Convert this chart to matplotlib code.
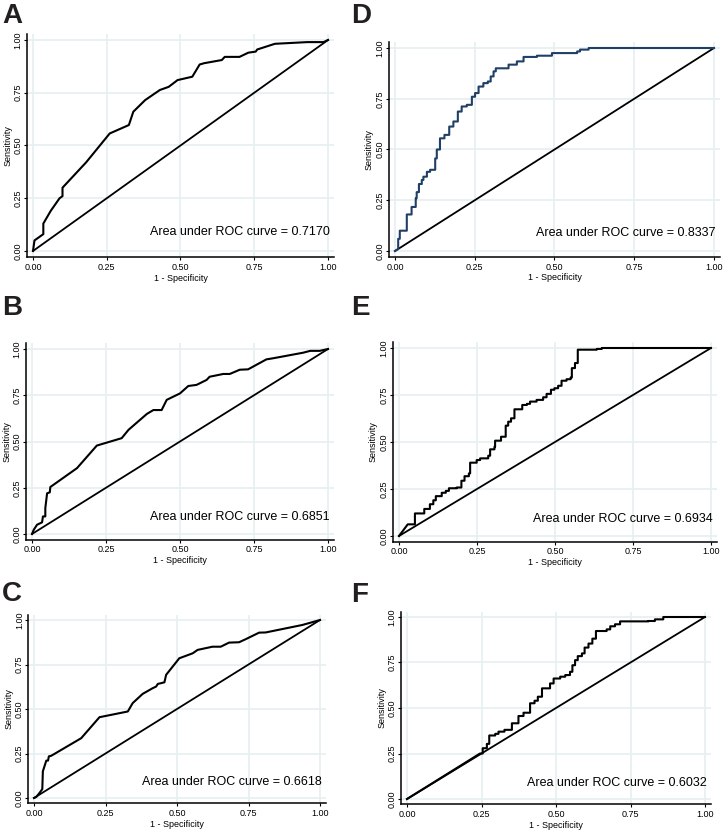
import numpy as np
import matplotlib.pyplot as plt

plt.rcParams['font.family'] = ['Liberation Sans', 'DejaVu Sans']

# ROC curve points (1 - specificity, sensitivity)
a_fpr = [0, 0.005, 0.03, 0.035, 0.035, 0.06, 0.09, 0.10, 0.10, 0.18, 0.26, 0.325, 0.34,
         0.38, 0.43, 0.46, 0.49, 0.54, 0.565, 0.58, 0.64, 0.65, 0.70, 0.73, 0.755,
         0.76, 0.82, 0.93, 0.985, 1]
a_tpr = [0, 0.05, 0.075, 0.08, 0.13, 0.19, 0.25, 0.26, 0.30, 0.42, 0.557, 0.597, 0.66,
         0.715, 0.763, 0.778, 0.81, 0.826, 0.884, 0.89, 0.905, 0.92, 0.92, 0.94, 0.945,
         0.955, 0.982, 0.99, 0.99, 1]

b_fpr = [0, 0.006, 0.017, 0.034, 0.037, 0.045, 0.045, 0.051, 0.06, 0.062, 0.152, 0.219,
         0.303, 0.326, 0.388, 0.41, 0.438, 0.455, 0.5, 0.528, 0.556, 0.59, 0.60, 0.646,
         0.668, 0.702, 0.73, 0.792, 0.815, 0.916, 0.94, 0.972, 1]
b_tpr = [0, 0.023, 0.05, 0.063, 0.095, 0.095, 0.14, 0.22, 0.225, 0.254, 0.356, 0.478,
         0.518, 0.563, 0.649, 0.67, 0.67, 0.725, 0.76, 0.80, 0.806, 0.833, 0.85, 0.865,
         0.865, 0.888, 0.89, 0.944, 0.95, 0.98, 0.99, 0.99, 1]

c_fpr = [0, 0.008, 0.02, 0.029, 0.031, 0.043, 0.049, 0.052, 0.06, 0.165, 0.229, 0.328,
         0.345, 0.38, 0.415, 0.427, 0.433, 0.444, 0.456, 0.462, 0.508, 0.555, 0.572,
         0.624, 0.653, 0.682, 0.717, 0.74, 0.787, 0.81, 0.938, 0.967, 1]
c_tpr = [0, 0.006, 0.03, 0.05, 0.15, 0.21, 0.21, 0.234, 0.237, 0.336, 0.454, 0.486,
         0.533, 0.585, 0.617, 0.626, 0.641, 0.645, 0.65, 0.692, 0.785, 0.813, 0.832,
         0.85, 0.85, 0.873, 0.875, 0.892, 0.929, 0.93, 0.972, 0.985, 1]

# step curves: x where the curve rises, height after the rise
d_fpr = [0, 0.01, 0.01, 0.015, 0.037, 0.052, 0.065, 0.068, 0.075, 0.084, 0.089, 0.10,
         0.11, 0.126, 0.131, 0.141, 0.155, 0.17, 0.183, 0.197, 0.209, 0.225, 0.241,
         0.251, 0.262, 0.277, 0.291, 0.30, 0.309, 0.316, 0.356, 0.382, 0.403, 0.445,
         0.492, 0.571, 0.58, 0.607, 1]
d_tpr = [0, 0.01, 0.06, 0.10, 0.18, 0.217, 0.26, 0.29, 0.33, 0.35, 0.366, 0.39,
         0.40, 0.456, 0.50, 0.555, 0.572, 0.613, 0.638, 0.687, 0.712, 0.72, 0.76,
         0.778, 0.81, 0.827, 0.835, 0.86, 0.885, 0.90, 0.918, 0.934, 0.956, 0.962,
         0.975, 0.983, 0.992, 1.0, 1]

e_fpr = [0, 0.028, 0.051, 0.081, 0.099, 0.11, 0.118, 0.137, 0.15, 0.16, 0.185, 0.20,
         0.21, 0.224, 0.228, 0.249, 0.26, 0.286, 0.292, 0.306, 0.308, 0.327, 0.342,
         0.35, 0.359, 0.37, 0.395, 0.41, 0.42, 0.441, 0.462, 0.473, 0.487, 0.498,
         0.51, 0.521, 0.537, 0.55, 0.554, 0.564, 0.573, 0.634, 0.65, 1]
e_tpr = [0, 0.062, 0.12, 0.144, 0.169, 0.19, 0.212, 0.23, 0.24, 0.254, 0.258, 0.294,
         0.318, 0.333, 0.39, 0.404, 0.413, 0.427, 0.461, 0.475, 0.507, 0.528, 0.587,
         0.608, 0.626, 0.674, 0.697, 0.703, 0.715, 0.724, 0.738, 0.756, 0.778, 0.786,
         0.799, 0.826, 0.834, 0.843, 0.893, 0.92, 0.991, 0.995, 1.0, 1]

f_fpr = [0, 0.245, 0.254, 0.268, 0.276, 0.296, 0.307, 0.327, 0.352, 0.374, 0.391,
         0.413, 0.428, 0.439, 0.453, 0.48, 0.492, 0.514, 0.531, 0.547, 0.555, 0.564,
         0.573, 0.587, 0.596, 0.609, 0.622, 0.634, 0.67, 0.682, 0.698, 0.715, 0.81,
         0.832, 0.86, 1]
f_tpr = [0, 0.25, 0.279, 0.303, 0.349, 0.358, 0.37, 0.38, 0.416, 0.456, 0.474,
         0.526, 0.54, 0.562, 0.608, 0.635, 0.662, 0.672, 0.681, 0.699, 0.735, 0.763,
         0.785, 0.80, 0.832, 0.854, 0.881, 0.923, 0.932, 0.949, 0.96, 0.976, 0.978,
         0.987, 1.0, 1]

auc_labels = ['0.7170', '0.6851', '0.6618', '0.8337', '0.6934', '0.6032']
panel_names = ['A', 'B', 'C', 'D', 'E', 'F']
ticks = [0, 0.25, 0.5, 0.75, 1]
tick_labels = ['0.00', '0.25', '0.50', '0.75', '1.00']


def steps(xs, ys):
    # first segment is a straight line, then right-then-up steps
    px, py = [xs[0], xs[1]], [ys[0], ys[1]]
    for i in range(2, len(xs)):
        px += [xs[i], xs[i]]
        py += [ys[i - 1], ys[i]]
    return px, py


W, H = 724, 830
# pixel positions of data 0 and 1 on each axis: x0, x1, y_top(=1), y_bottom(=0)
boxes = {
    'A': (33, 328, 40, 251),
    'B': (32, 328, 349, 534),
    'C': (34, 320, 620, 798),
    'D': (395, 714, 48, 251),
    'E': (399, 711, 348, 536),
    'F': (407, 705, 617, 799),
}
label_pos = {'A': (2, 3), 'B': (2, 295), 'C': (2, 581),
             'D': (351, 3), 'E': (351, 295), 'F': (351, 582)}
curves = {
    'A': (a_fpr, a_tpr, False), 'B': (b_fpr, b_tpr, False),
    'C': (c_fpr, c_tpr, False), 'D': (d_fpr, d_tpr, True),
    'E': (e_fpr, e_tpr, True), 'F': (f_fpr, f_tpr, True),
}
colors = {'A': 'black', 'B': 'black', 'C': 'black', 'D': '#1f3f66',
          'E': 'black', 'F': 'black'}

xpad, ypad = 0.02, 0.03
fig = plt.figure(figsize=(W / 100, H / 100), dpi=100)

for name, auc in zip(panel_names, auc_labels):
    x0, x1, yt, yb = boxes[name]
    ux = x1 - x0
    uy = yb - yt
    left = x0 - xpad * ux
    right = x1 + xpad * ux
    top = yt - ypad * uy
    bottom = yb + ypad * uy
    ax = fig.add_axes([left / W, 1 - bottom / H, (right - left) / W, (bottom - top) / H])
    ax.set_xlim(-xpad, 1 + xpad)
    ax.set_ylim(-ypad, 1 + ypad)
    for s in ['top', 'right']:
        ax.spines[s].set_visible(False)
    for s in ['left', 'bottom']:
        ax.spines[s].set_linewidth(1.1)
    ax.set_xticks(ticks)
    ax.set_xticklabels(tick_labels, fontsize=6.5)
    ax.set_yticks(ticks)
    ax.set_yticklabels(tick_labels, fontsize=6.5, rotation=90, va='center')
    ax.tick_params(length=2.2, width=0.8, pad=1)
    ax.tick_params(axis='x', pad=2)
    ax.grid(True, color='#e6eff1', linewidth=1.2)
    ax.set_axisbelow(True)
    ax.set_xlabel('1 - Specificity', fontsize=6.5, labelpad=1)
    ax.set_ylabel('Sensitivity', fontsize=6.5, labelpad=1)

    fpr, tpr, stepped = curves[name]
    if stepped:
        fpr, tpr = steps(fpr, tpr)
    ax.plot([0, 1], [0, 1], color='black', lw=1.3)
    ax.plot(fpr, tpr, color=colors[name], lw=1.5)
    ax.text(1.005, 0.09, 'Area under ROC curve = ' + auc, ha='right', va='center',
            fontsize=9, transform=ax.transData)

    lx, ly = label_pos[name]
    fig.text(lx / W, 1 - ly / H, name, fontsize=20, fontweight='bold',
             ha='left', va='top', color='#231f20')

fig.savefig('out.png', dpi=100)
